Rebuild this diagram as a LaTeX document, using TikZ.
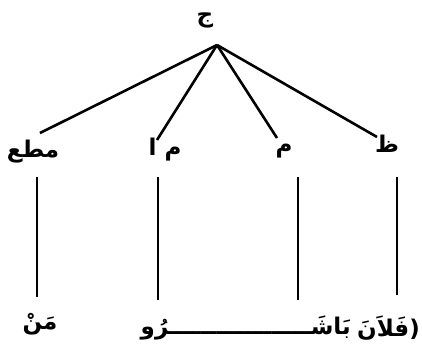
\documentclass[tikz,border=0pt]{standalone}
\usepackage{fontspec}
\TeXXeTstate=1
\newfontfamily\arabicfont[Script=Arabic]{DejaVu Sans}
\begin{document}
\begin{tikzpicture}[x=1pt,y=-1pt,
  lbl/.style={font=\arabicfont\bfseries\fontsize{23}{26}\selectfont,inner sep=0pt},
  btm/.style={font=\arabicfont\bfseries\fontsize{23}{27}\selectfont,inner sep=0pt},
  branch/.style={line width=2.6pt},
  stem/.style={line width=2pt}]
\useasboundingbox (0,0) rectangle (422,360);
\node[lbl] (top) at (205,20) {\hbox{\beginR ج\endR}};
\coordinate (apex) at (217,45);
\node[lbl] (l1) at (33,152) {\hbox{\beginR مطع\endR}};
\node[lbl] (l2) at (165,150) {\hbox{\beginR م ا\endR}};
\node[lbl] (l3) at (284,151) {\hbox{\beginR م\endR}};
\node[lbl] (l4) at (387,144) {\hbox{\beginR ظ\endR}};
\coordinate (e1) at (40,133);
\coordinate (e2) at (157,140);
\coordinate (e3) at (277,138);
\coordinate (e4) at (377,137);
\foreach \e in {e1,e2,e3,e4} \draw[branch] (apex) -- (\e);
\coordinate (t1) at (37,177); \coordinate (u1) at (37,297);
\coordinate (t2) at (158,177); \coordinate (u2) at (158,300);
\coordinate (t3) at (298,177); \coordinate (u3) at (298,300);
\coordinate (t4) at (397,177); \coordinate (u4) at (397,295);
\foreach \i in {1,2,3,4} \draw[stem] (t\i) -- (u\i);
\node[btm] (b1) at (40,324) {\hbox{\beginR مَنْ\endR}};
\node[btm,anchor=east] (b3) at (420,328) {\hbox{\beginR (فَلاَنَ\endR}};
\node[btm,anchor=east] (b2) at ([xshift=-6pt]b3.west) {\hbox{\beginR بَاشَــــــــــــــــــرُو\endR}};
\end{tikzpicture}
\end{document}
